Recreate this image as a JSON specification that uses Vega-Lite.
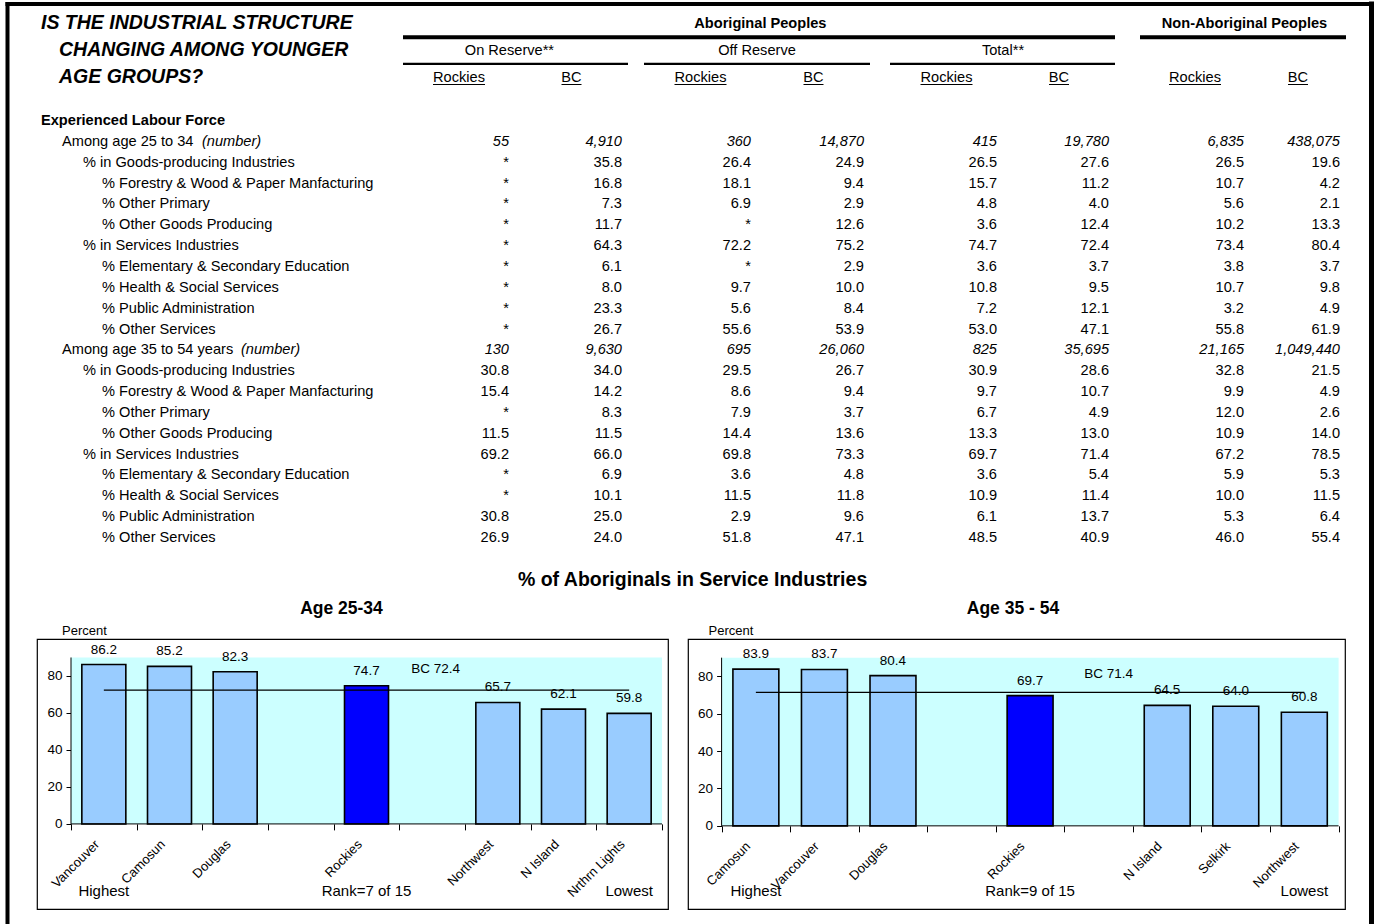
{
  "$schema": "https://vega.github.io/schema/vega-lite/v6.json",
  "padding": 0,
  "autosize": {"type": "pad"},
  "background": "white",
  "bounds": "flush",
  "spacing": 20,
  "config": {
    "view": {"stroke": null},
    "font": "Liberation Sans",
    "text": {"font": "Liberation Sans", "color": "black", "baseline": "middle"},
    "title": {"font": "Liberation Sans", "color": "black"},
    "axis": {"labelFont": "Liberation Sans", "titleFont": "Liberation Sans", "labelColor": "black", "titleColor": "black", "tickColor": "black", "domainColor": "black"}
  },
  "datasets": {
    "left": [
      {"college": "Vancouver", "pct": 86.2},
      {"college": "Camosun", "pct": 85.2},
      {"college": "Douglas", "pct": 82.3},
      {"college": "Rockies", "pct": 74.7},
      {"college": "Northwest", "pct": 65.7},
      {"college": "N Island", "pct": 62.1},
      {"college": "Nrthrn Lights", "pct": 59.8}
    ],
    "leftBC": [{"from": "Vancouver", "to": "Nrthrn Lights", "at": "gap2", "bc": 72.4, "label": "BC 72.4"}],
    "leftNotes": [
      {"college": "Vancouver", "note": "Highest"},
      {"college": "Rockies", "note": "Rank=7 of 15"},
      {"college": "Nrthrn Lights", "note": "Lowest"}
    ],
    "right": [
      {"college": "Camosun", "pct": 83.9},
      {"college": "Vancouver", "pct": 83.7},
      {"college": "Douglas", "pct": 80.4},
      {"college": "Rockies", "pct": 69.7},
      {"college": "N Island", "pct": 64.5},
      {"college": "Selkirk", "pct": 64.0},
      {"college": "Northwest", "pct": 60.8}
    ],
    "rightBC": [{"from": "Camosun", "to": "Northwest", "at": "gap2", "bc": 71.4, "label": "BC 71.4"}],
    "rightNotes": [
      {"college": "Camosun", "note": "Highest"},
      {"college": "Rockies", "note": "Rank=9 of 15"},
      {"college": "Northwest", "note": "Lowest"}
    ],
    "groupHdr": [
      {"h": "Aboriginal Peoples", "row": -3, "from": 1, "to": 9, "mid": 5.03},
      {"h": "Non-Aboriginal Peoples", "row": -3, "from": 10, "to": 12, "mid": 10.95}
    ],
    "subHdr": [
      {"h": "On Reserve**", "row": -2, "from": 1, "to": 3, "mid": 1.95},
      {"h": "Off Reserve", "row": -2, "from": 4, "to": 6, "mid": 5},
      {"h": "Total**", "row": -2, "from": 7, "to": 9, "mid": 8}
    ],
    "colHdr": [
      {"h": "Rockies", "mid": 1.5}, {"h": "BC", "mid": 2.5},
      {"h": "Rockies", "mid": 4.5}, {"h": "BC", "mid": 5.5},
      {"h": "Rockies", "mid": 7.5}, {"h": "BC", "mid": 8.5},
      {"h": "Rockies", "mid": 10.5}, {"h": "BC", "mid": 11.5}
    ],
    "titleLines": [
      {"r": -3, "t": "IS THE INDUSTRIAL STRUCTURE"},
      {"r": -2, "t": "CHANGING AMONG YOUNGER"},
      {"r": -1, "t": "AGE GROUPS?"}
    ],
    "rows": [
      {"r": 0, "lvl": 0, "label": "Experienced Labour Force"},
      {"r": 1, "lvl": 1, "label": "Among age 25 to 34", "unit": "(number)"},
      {"r": 2, "lvl": 2, "label": "% in Goods-producing Industries"},
      {"r": 3, "lvl": 3, "label": "% Forestry & Wood & Paper Manfacturing"},
      {"r": 4, "lvl": 3, "label": "% Other Primary"},
      {"r": 5, "lvl": 3, "label": "% Other Goods Producing"},
      {"r": 6, "lvl": 2, "label": "% in Services Industries"},
      {"r": 7, "lvl": 3, "label": "% Elementary & Secondary Education"},
      {"r": 8, "lvl": 3, "label": "% Health & Social Services"},
      {"r": 9, "lvl": 3, "label": "% Public Administration"},
      {"r": 10, "lvl": 3, "label": "% Other Services"},
      {"r": 11, "lvl": 1, "label": "Among age 35 to 54 years", "unit": "(number)"},
      {"r": 12, "lvl": 2, "label": "% in Goods-producing Industries"},
      {"r": 13, "lvl": 3, "label": "% Forestry & Wood & Paper Manfacturing"},
      {"r": 14, "lvl": 3, "label": "% Other Primary"},
      {"r": 15, "lvl": 3, "label": "% Other Goods Producing"},
      {"r": 16, "lvl": 2, "label": "% in Services Industries"},
      {"r": 17, "lvl": 3, "label": "% Elementary & Secondary Education"},
      {"r": 18, "lvl": 3, "label": "% Health & Social Services"},
      {"r": 19, "lvl": 3, "label": "% Public Administration"},
      {"r": 20, "lvl": 3, "label": "% Other Services"}
    ],
    "cells": [
      {"r":1,"c":2,"v":"55"},{"r":1,"c":3,"v":"4,910"},{"r":1,"c":5,"v":"360"},{"r":1,"c":6,"v":"14,870"},{"r":1,"c":8,"v":"415"},{"r":1,"c":9,"v":"19,780"},{"r":1,"c":11,"v":"6,835"},{"r":1,"c":12,"v":"438,075"},
      {"r":2,"c":2,"v":"*"},{"r":2,"c":3,"v":"35.8"},{"r":2,"c":5,"v":"26.4"},{"r":2,"c":6,"v":"24.9"},{"r":2,"c":8,"v":"26.5"},{"r":2,"c":9,"v":"27.6"},{"r":2,"c":11,"v":"26.5"},{"r":2,"c":12,"v":"19.6"},
      {"r":3,"c":2,"v":"*"},{"r":3,"c":3,"v":"16.8"},{"r":3,"c":5,"v":"18.1"},{"r":3,"c":6,"v":"9.4"},{"r":3,"c":8,"v":"15.7"},{"r":3,"c":9,"v":"11.2"},{"r":3,"c":11,"v":"10.7"},{"r":3,"c":12,"v":"4.2"},
      {"r":4,"c":2,"v":"*"},{"r":4,"c":3,"v":"7.3"},{"r":4,"c":5,"v":"6.9"},{"r":4,"c":6,"v":"2.9"},{"r":4,"c":8,"v":"4.8"},{"r":4,"c":9,"v":"4.0"},{"r":4,"c":11,"v":"5.6"},{"r":4,"c":12,"v":"2.1"},
      {"r":5,"c":2,"v":"*"},{"r":5,"c":3,"v":"11.7"},{"r":5,"c":5,"v":"*"},{"r":5,"c":6,"v":"12.6"},{"r":5,"c":8,"v":"3.6"},{"r":5,"c":9,"v":"12.4"},{"r":5,"c":11,"v":"10.2"},{"r":5,"c":12,"v":"13.3"},
      {"r":6,"c":2,"v":"*"},{"r":6,"c":3,"v":"64.3"},{"r":6,"c":5,"v":"72.2"},{"r":6,"c":6,"v":"75.2"},{"r":6,"c":8,"v":"74.7"},{"r":6,"c":9,"v":"72.4"},{"r":6,"c":11,"v":"73.4"},{"r":6,"c":12,"v":"80.4"},
      {"r":7,"c":2,"v":"*"},{"r":7,"c":3,"v":"6.1"},{"r":7,"c":5,"v":"*"},{"r":7,"c":6,"v":"2.9"},{"r":7,"c":8,"v":"3.6"},{"r":7,"c":9,"v":"3.7"},{"r":7,"c":11,"v":"3.8"},{"r":7,"c":12,"v":"3.7"},
      {"r":8,"c":2,"v":"*"},{"r":8,"c":3,"v":"8.0"},{"r":8,"c":5,"v":"9.7"},{"r":8,"c":6,"v":"10.0"},{"r":8,"c":8,"v":"10.8"},{"r":8,"c":9,"v":"9.5"},{"r":8,"c":11,"v":"10.7"},{"r":8,"c":12,"v":"9.8"},
      {"r":9,"c":2,"v":"*"},{"r":9,"c":3,"v":"23.3"},{"r":9,"c":5,"v":"5.6"},{"r":9,"c":6,"v":"8.4"},{"r":9,"c":8,"v":"7.2"},{"r":9,"c":9,"v":"12.1"},{"r":9,"c":11,"v":"3.2"},{"r":9,"c":12,"v":"4.9"},
      {"r":10,"c":2,"v":"*"},{"r":10,"c":3,"v":"26.7"},{"r":10,"c":5,"v":"55.6"},{"r":10,"c":6,"v":"53.9"},{"r":10,"c":8,"v":"53.0"},{"r":10,"c":9,"v":"47.1"},{"r":10,"c":11,"v":"55.8"},{"r":10,"c":12,"v":"61.9"},
      {"r":11,"c":2,"v":"130"},{"r":11,"c":3,"v":"9,630"},{"r":11,"c":5,"v":"695"},{"r":11,"c":6,"v":"26,060"},{"r":11,"c":8,"v":"825"},{"r":11,"c":9,"v":"35,695"},{"r":11,"c":11,"v":"21,165"},{"r":11,"c":12,"v":"1,049,440"},
      {"r":12,"c":2,"v":"30.8"},{"r":12,"c":3,"v":"34.0"},{"r":12,"c":5,"v":"29.5"},{"r":12,"c":6,"v":"26.7"},{"r":12,"c":8,"v":"30.9"},{"r":12,"c":9,"v":"28.6"},{"r":12,"c":11,"v":"32.8"},{"r":12,"c":12,"v":"21.5"},
      {"r":13,"c":2,"v":"15.4"},{"r":13,"c":3,"v":"14.2"},{"r":13,"c":5,"v":"8.6"},{"r":13,"c":6,"v":"9.4"},{"r":13,"c":8,"v":"9.7"},{"r":13,"c":9,"v":"10.7"},{"r":13,"c":11,"v":"9.9"},{"r":13,"c":12,"v":"4.9"},
      {"r":14,"c":2,"v":"*"},{"r":14,"c":3,"v":"8.3"},{"r":14,"c":5,"v":"7.9"},{"r":14,"c":6,"v":"3.7"},{"r":14,"c":8,"v":"6.7"},{"r":14,"c":9,"v":"4.9"},{"r":14,"c":11,"v":"12.0"},{"r":14,"c":12,"v":"2.6"},
      {"r":15,"c":2,"v":"11.5"},{"r":15,"c":3,"v":"11.5"},{"r":15,"c":5,"v":"14.4"},{"r":15,"c":6,"v":"13.6"},{"r":15,"c":8,"v":"13.3"},{"r":15,"c":9,"v":"13.0"},{"r":15,"c":11,"v":"10.9"},{"r":15,"c":12,"v":"14.0"},
      {"r":16,"c":2,"v":"69.2"},{"r":16,"c":3,"v":"66.0"},{"r":16,"c":5,"v":"69.8"},{"r":16,"c":6,"v":"73.3"},{"r":16,"c":8,"v":"69.7"},{"r":16,"c":9,"v":"71.4"},{"r":16,"c":11,"v":"67.2"},{"r":16,"c":12,"v":"78.5"},
      {"r":17,"c":2,"v":"*"},{"r":17,"c":3,"v":"6.9"},{"r":17,"c":5,"v":"3.6"},{"r":17,"c":6,"v":"4.8"},{"r":17,"c":8,"v":"3.6"},{"r":17,"c":9,"v":"5.4"},{"r":17,"c":11,"v":"5.9"},{"r":17,"c":12,"v":"5.3"},
      {"r":18,"c":2,"v":"*"},{"r":18,"c":3,"v":"10.1"},{"r":18,"c":5,"v":"11.5"},{"r":18,"c":6,"v":"11.8"},{"r":18,"c":8,"v":"10.9"},{"r":18,"c":9,"v":"11.4"},{"r":18,"c":11,"v":"10.0"},{"r":18,"c":12,"v":"11.5"},
      {"r":19,"c":2,"v":"30.8"},{"r":19,"c":3,"v":"25.0"},{"r":19,"c":5,"v":"2.9"},{"r":19,"c":6,"v":"9.6"},{"r":19,"c":8,"v":"6.1"},{"r":19,"c":9,"v":"13.7"},{"r":19,"c":11,"v":"5.3"},{"r":19,"c":12,"v":"6.4"},
      {"r":20,"c":2,"v":"26.9"},{"r":20,"c":3,"v":"24.0"},{"r":20,"c":5,"v":"51.8"},{"r":20,"c":6,"v":"47.1"},{"r":20,"c":8,"v":"48.5"},{"r":20,"c":9,"v":"40.9"},{"r":20,"c":11,"v":"46.0"},{"r":20,"c":12,"v":"55.4"}
    ]
  },
  "vconcat": [
    {
      "width": 1378,
      "height": 617,
      "layer": [
        {
          "data": {"values": [{}]},
          "mark": {"type": "rule", "strokeWidth": 4, "color": "black", "strokeCap": "square"},
          "encoding": {
            "x": {"datum": -1, "type": "quantitative", "axis": null, "scale": {"domain": [-1,0,1,2,3,4,5,6,7,8,9,10,11,12,13], "range": [7.5,41,403,515,628,644,757,870,890,1003,1115,1140,1250,1346,1371.5], "nice": false, "zero": false}},
            "x2": {"datum": 13},
            "y": {"datum": -4, "type": "quantitative", "axis": null, "scale": {"domain": [-4,-3,-2,-1,0,20], "range": [2,22,49,76,119,536], "nice": false, "zero": false}}
          }
        },
        {
          "data": {"values": [{}]},
          "mark": {"type": "rule", "strokeWidth": 4, "color": "black", "strokeCap": "square"},
          "encoding": {
            "x": {"datum": -1, "type": "quantitative", "axis": null},
            "y": {"datum": -4, "type": "quantitative", "axis": null},
            "y2": {"datum": 38.5}
          }
        },
        {
          "data": {"values": [{}]},
          "mark": {"type": "rule", "strokeWidth": 5, "color": "black", "strokeCap": "square"},
          "encoding": {
            "x": {"datum": 13, "type": "quantitative", "axis": null},
            "y": {"datum": -4, "type": "quantitative", "axis": null},
            "y2": {"datum": 38.5}
          }
        },
        {
          "data": {"name": "groupHdr"},
          "mark": {"type": "rule", "strokeWidth": 4, "color": "black", "yOffset": 13.3},
          "encoding": {
            "x": {"field": "from", "type": "quantitative", "axis": null},
            "x2": {"field": "to"},
            "y": {"field": "row", "type": "quantitative", "axis": null}
          }
        },
        {
          "data": {"name": "subHdr"},
          "mark": {"type": "rule", "strokeWidth": 2.3, "color": "black", "yOffset": 12.8},
          "encoding": {
            "x": {"field": "from", "type": "quantitative", "axis": null},
            "x2": {"field": "to"},
            "y": {"field": "row", "type": "quantitative", "axis": null}
          }
        },
        {
          "data": {"name": "groupHdr"},
          "mark": {"type": "text", "fontSize": 14.6, "fontWeight": "bold", "align": "center", "baseline": "middle"},
          "encoding": {
            "x": {"field": "mid", "type": "quantitative", "axis": null},
            "y": {"field": "row", "type": "quantitative", "axis": null},
            "text": {"field": "h"}
          }
        },
        {
          "data": {"name": "subHdr"},
          "mark": {"type": "text", "fontSize": 14.6, "align": "center", "baseline": "middle"},
          "encoding": {
            "x": {"field": "mid", "type": "quantitative", "axis": null},
            "y": {"field": "row", "type": "quantitative", "axis": null},
            "text": {"field": "h"}
          }
        },
        {
          "data": {"name": "colHdr"},
          "mark": {"type": "text", "fontSize": 14.6, "align": "center", "baseline": "middle"},
          "encoding": {
            "x": {"field": "mid", "type": "quantitative", "axis": null},
            "y": {"datum": -1, "type": "quantitative", "axis": null},
            "text": {"field": "h"}
          }
        },
        {
          "data": {"name": "colHdr"},
          "transform": [{"filter": "datum.h === 'Rockies'"}],
          "mark": {"type": "rule", "strokeWidth": 1, "color": "black", "xOffset": -26, "x2Offset": 26, "yOffset": 6.5},
          "encoding": {
            "x": {"field": "mid", "type": "quantitative", "axis": null},
            "x2": {"field": "mid"},
            "y": {"datum": -1, "type": "quantitative", "axis": null}
          }
        },
        {
          "data": {"name": "colHdr"},
          "transform": [{"filter": "datum.h === 'BC'"}],
          "mark": {"type": "rule", "strokeWidth": 1, "color": "black", "xOffset": -10, "x2Offset": 10, "yOffset": 6.5},
          "encoding": {
            "x": {"field": "mid", "type": "quantitative", "axis": null},
            "x2": {"field": "mid"},
            "y": {"datum": -1, "type": "quantitative", "axis": null}
          }
        },
        {
          "data": {"name": "titleLines"},
          "transform": [{"filter": "datum.r === -3"}],
          "mark": {"type": "text", "fontSize": 19.5, "fontWeight": "bold", "fontStyle": "italic", "align": "left", "baseline": "middle", "dy": -1.5},
          "encoding": {
            "x": {"datum": 0, "type": "quantitative", "axis": null},
            "y": {"field": "r", "type": "quantitative", "axis": null},
            "text": {"field": "t"}
          }
        },
        {
          "data": {"name": "titleLines"},
          "transform": [{"filter": "datum.r !== -3"}],
          "mark": {"type": "text", "fontSize": 19.5, "fontWeight": "bold", "fontStyle": "italic", "align": "left", "baseline": "middle", "dx": 18, "dy": -1.5},
          "encoding": {
            "x": {"datum": 0, "type": "quantitative", "axis": null},
            "y": {"field": "r", "type": "quantitative", "axis": null},
            "text": {"field": "t"}
          }
        },
        {
          "data": {"name": "rows"},
          "transform": [{"filter": "datum.lvl === 0"}],
          "mark": {"type": "text", "fontSize": 14.6, "fontWeight": "bold", "align": "left", "baseline": "middle"},
          "encoding": {
            "x": {"datum": 0, "type": "quantitative", "axis": null},
            "y": {"field": "r", "type": "quantitative", "axis": null},
            "text": {"field": "label"}
          }
        },
        {
          "data": {"name": "rows"},
          "transform": [{"filter": "datum.lvl === 1"}],
          "mark": {"type": "text", "fontSize": 14.6, "align": "left", "baseline": "middle", "dx": 21},
          "encoding": {
            "x": {"datum": 0, "type": "quantitative", "axis": null},
            "y": {"field": "r", "type": "quantitative", "axis": null},
            "text": {"field": "label"}
          }
        },
        {
          "data": {"name": "rows"},
          "transform": [{"filter": "datum.lvl === 2"}],
          "mark": {"type": "text", "fontSize": 14.6, "align": "left", "baseline": "middle", "dx": 42},
          "encoding": {
            "x": {"datum": 0, "type": "quantitative", "axis": null},
            "y": {"field": "r", "type": "quantitative", "axis": null},
            "text": {"field": "label"}
          }
        },
        {
          "data": {"name": "rows"},
          "transform": [{"filter": "datum.lvl === 3"}],
          "mark": {"type": "text", "fontSize": 14.6, "align": "left", "baseline": "middle", "dx": 61},
          "encoding": {
            "x": {"datum": 0, "type": "quantitative", "axis": null},
            "y": {"field": "r", "type": "quantitative", "axis": null},
            "text": {"field": "label"}
          }
        },
        {
          "data": {"name": "rows"},
          "transform": [{"filter": "datum.r === 1"}],
          "mark": {"type": "text", "fontSize": 14.6, "fontStyle": "italic", "align": "left", "baseline": "middle", "dx": 161},
          "encoding": {
            "x": {"datum": 0, "type": "quantitative", "axis": null},
            "y": {"field": "r", "type": "quantitative", "axis": null},
            "text": {"field": "unit"}
          }
        },
        {
          "data": {"name": "rows"},
          "transform": [{"filter": "datum.r === 11"}],
          "mark": {"type": "text", "fontSize": 14.6, "fontStyle": "italic", "align": "left", "baseline": "middle", "dx": 200},
          "encoding": {
            "x": {"datum": 0, "type": "quantitative", "axis": null},
            "y": {"field": "r", "type": "quantitative", "axis": null},
            "text": {"field": "unit"}
          }
        },
        {
          "data": {"name": "cells"},
          "transform": [{"filter": "datum.r !== 1 && datum.r !== 11"}],
          "mark": {"type": "text", "fontSize": 14.6, "align": "right", "baseline": "middle", "dx": -6},
          "encoding": {
            "x": {"field": "c", "type": "quantitative", "axis": null},
            "y": {"field": "r", "type": "quantitative", "axis": null},
            "text": {"field": "v"}
          }
        },
        {
          "data": {"name": "cells"},
          "transform": [{"filter": "datum.r === 1 || datum.r === 11"}],
          "mark": {"type": "text", "fontSize": 14.6, "fontStyle": "italic", "align": "right", "baseline": "middle", "dx": -6},
          "encoding": {
            "x": {"field": "c", "type": "quantitative", "axis": null},
            "y": {"field": "r", "type": "quantitative", "axis": null},
            "text": {"field": "v"}
          }
        },
        {
          "data": {"values": [{"t": "% of Aboriginals in Service Industries"}]},
          "mark": {"type": "text", "fontSize": 19.5, "fontWeight": "bold", "align": "center", "baseline": "middle"},
          "encoding": {
            "x": {"datum": 4.43, "type": "quantitative", "axis": null},
            "y": {"datum": 22, "type": "quantitative", "axis": null},
            "text": {"field": "t"}
          }
        }
      ]
    },
    {
      "bounds": "flush",
      "spacing": 20,
      "hconcat": [
        {
          "width": 17,
          "height": 270,
          "data": {"values": []},
          "mark": "text",
          "encoding": {}
        },
        {
          "width": 631,
          "height": 270,
          "view": {"stroke": "black", "strokeWidth": 1.2, "fill": "white"},
          "title": {"text": "Age 25-34", "fontSize": 17.5, "fontWeight": "bold", "anchor": "middle", "dx": -11, "offset": 7, "color": "black"},
          "layer": [
            {
              "data": {"values": [{}]},
              "mark": {"type": "rect", "color": "#CCFFFF"},
              "encoding": {
                "x": {"datum": "Vancouver", "type": "nominal", "bandPosition": 0,
                  "scale": {"type": "band", "domain": ["Vancouver","Camosun","Douglas","gap1","Rockies","gap2","Northwest","N Island","Nrthrn Lights"], "paddingInner": 0, "paddingOuter": 0.3046, "align": 0.85}},
                "x2": {"datum": "Nrthrn Lights", "bandPosition": 1},
                "y": {"datum": 90, "type": "quantitative",
                  "scale": {"domain": [-46, 100], "nice": false, "zero": false}},
                "y2": {"datum": 0}
              }
            },
            {
              "data": {"name": "left"},
              "mark": {"type": "bar", "width": {"band": 0.67}, "stroke": "black", "strokeWidth": 1.6},
              "encoding": {
                "x": {"field": "college", "type": "nominal",
                  "axis": {"orient": "bottom", "offset": -85.1, "tickBand": "extent", "domain": false, "grid": false, "labelAngle": -45, "labelExpr": "indexof(datum.label, 'gap') === 0 ? '' : datum.label", "labelFontSize": 13, "tickSize": 6, "labelPadding": 12, "labelOffset": -7, "title": null}},
                "y": {"field": "pct", "type": "quantitative",
                  "axis": {"values": [0,20,40,60,80], "offset": -34, "domain": false, "grid": false, "tickSize": 5, "labelFontSize": 13.5, "labelPadding": 4, "title": "Percent", "titleAngle": 0, "titleX": 13, "titleY": -8.3, "titleAlign": "center", "titleBaseline": "middle", "titleFontWeight": "normal", "titleFontSize": 13}},
                "y2": {"datum": 0},
                "color": {"condition": {"test": "datum.college === 'Rockies'", "value": "#0000FF"}, "value": "#99CCFF"}
              }
            },
            {
              "data": {"name": "left"},
              "mark": {"type": "text", "fontSize": 13.5, "align": "center", "baseline": "middle", "dy": -15},
              "encoding": {
                "x": {"field": "college", "type": "nominal"},
                "y": {"field": "pct", "type": "quantitative"},
                "text": {"field": "pct", "format": ".1f"}
              }
            },
            {
              "data": {"values": [{}]},
              "mark": {"type": "rule", "color": "black", "strokeWidth": 1},
              "encoding": {
                "x": {"datum": "Vancouver", "type": "nominal", "bandPosition": 0},
                "y": {"datum": 0, "type": "quantitative"},
                "y2": {"datum": 90}
              }
            },
            {
              "data": {"values": [{}]},
              "mark": {"type": "rule", "color": "black", "strokeWidth": 1},
              "encoding": {
                "x": {"datum": "Vancouver", "type": "nominal", "bandPosition": 0},
                "x2": {"datum": "Nrthrn Lights", "bandPosition": 1},
                "y": {"datum": 0, "type": "quantitative"}
              }
            },
            {
              "data": {"name": "leftBC"},
              "mark": {"type": "rule", "color": "black", "strokeWidth": 1.3},
              "encoding": {
                "x": {"field": "from", "type": "nominal", "bandPosition": 0.5},
                "x2": {"field": "to", "bandPosition": 0.5},
                "y": {"field": "bc", "type": "quantitative"}
              }
            },
            {
              "data": {"name": "leftBC"},
              "mark": {"type": "text", "fontSize": 13.5, "align": "center", "baseline": "middle", "dy": -21, "dx": 3.5},
              "encoding": {
                "x": {"field": "at", "type": "nominal"},
                "y": {"field": "bc", "type": "quantitative"},
                "text": {"field": "label"}
              }
            },
            {
              "data": {"name": "leftNotes"},
              "mark": {"type": "text", "fontSize": 15, "align": "center", "baseline": "middle", "dy": 66.8},
              "encoding": {
                "x": {"field": "college", "type": "nominal"},
                "y": {"datum": 0, "type": "quantitative"},
                "text": {"field": "note"}
              }
            }
          ]
        },
        {
          "width": 657,
          "height": 270,
          "view": {"stroke": "black", "strokeWidth": 1.2, "fill": "white"},
          "title": {"text": "Age 35 - 54", "fontSize": 17.5, "fontWeight": "bold", "anchor": "middle", "dx": -3.5, "offset": 7, "color": "black"},
          "layer": [
            {
              "data": {"values": [{}]},
              "mark": {"type": "rect", "color": "#CCFFFF"},
              "encoding": {
                "x": {"datum": "Camosun", "type": "nominal", "bandPosition": 0,
                  "scale": {"type": "band", "domain": ["Camosun","Vancouver","Douglas","gap1","Rockies","gap2","N Island","Selkirk","Northwest"], "paddingInner": 0, "paddingOuter": 0.2917, "align": 0.84}},
                "x2": {"datum": "Northwest", "bandPosition": 1},
                "y": {"datum": 90, "type": "quantitative",
                  "scale": {"domain": [-44.5, 100], "nice": false, "zero": false}},
                "y2": {"datum": 0}
              }
            },
            {
              "data": {"name": "right"},
              "mark": {"type": "bar", "width": {"band": 0.67}, "stroke": "black", "strokeWidth": 1.6},
              "encoding": {
                "x": {"field": "college", "type": "nominal",
                  "axis": {"orient": "bottom", "offset": -83.15, "tickBand": "extent", "domain": false, "grid": false, "labelAngle": -45, "labelExpr": "indexof(datum.label, 'gap') === 0 ? '' : datum.label", "labelFontSize": 13, "tickSize": 6, "labelPadding": 12, "labelOffset": -8, "title": null}},
                "y": {"field": "pct", "type": "quantitative",
                  "axis": {"values": [0,20,40,60,80], "offset": -33.6, "domain": false, "grid": false, "tickSize": 5, "labelFontSize": 13.5, "labelPadding": 4, "title": "Percent", "titleAngle": 0, "titleX": 8.9, "titleY": -8.3, "titleAlign": "center", "titleBaseline": "middle", "titleFontWeight": "normal", "titleFontSize": 13}},
                "y2": {"datum": 0},
                "color": {"condition": {"test": "datum.college === 'Rockies'", "value": "#0000FF"}, "value": "#99CCFF"}
              }
            },
            {
              "data": {"name": "right"},
              "mark": {"type": "text", "fontSize": 13.5, "align": "center", "baseline": "middle", "dy": -15},
              "encoding": {
                "x": {"field": "college", "type": "nominal"},
                "y": {"field": "pct", "type": "quantitative"},
                "text": {"field": "pct", "format": ".1f"}
              }
            },
            {
              "data": {"values": [{}]},
              "mark": {"type": "rule", "color": "black", "strokeWidth": 1},
              "encoding": {
                "x": {"datum": "Camosun", "type": "nominal", "bandPosition": 0},
                "y": {"datum": 0, "type": "quantitative"},
                "y2": {"datum": 90}
              }
            },
            {
              "data": {"values": [{}]},
              "mark": {"type": "rule", "color": "black", "strokeWidth": 1},
              "encoding": {
                "x": {"datum": "Camosun", "type": "nominal", "bandPosition": 0},
                "x2": {"datum": "Northwest", "bandPosition": 1},
                "y": {"datum": 0, "type": "quantitative"}
              }
            },
            {
              "data": {"name": "rightBC"},
              "mark": {"type": "rule", "color": "black", "strokeWidth": 1.3},
              "encoding": {
                "x": {"field": "from", "type": "nominal", "bandPosition": 0.5},
                "x2": {"field": "to", "bandPosition": 0.5},
                "y": {"field": "bc", "type": "quantitative"}
              }
            },
            {
              "data": {"name": "rightBC"},
              "mark": {"type": "text", "fontSize": 13.5, "align": "center", "baseline": "middle", "dy": -18, "dx": 10},
              "encoding": {
                "x": {"field": "at", "type": "nominal"},
                "y": {"field": "bc", "type": "quantitative"},
                "text": {"field": "label"}
              }
            },
            {
              "data": {"name": "rightNotes"},
              "mark": {"type": "text", "fontSize": 15, "align": "center", "baseline": "middle", "dy": 64.8},
              "encoding": {
                "x": {"field": "college", "type": "nominal"},
                "y": {"datum": 0, "type": "quantitative"},
                "text": {"field": "note"}
              }
            }
          ]
        }
      ]
    }
  ]
}
